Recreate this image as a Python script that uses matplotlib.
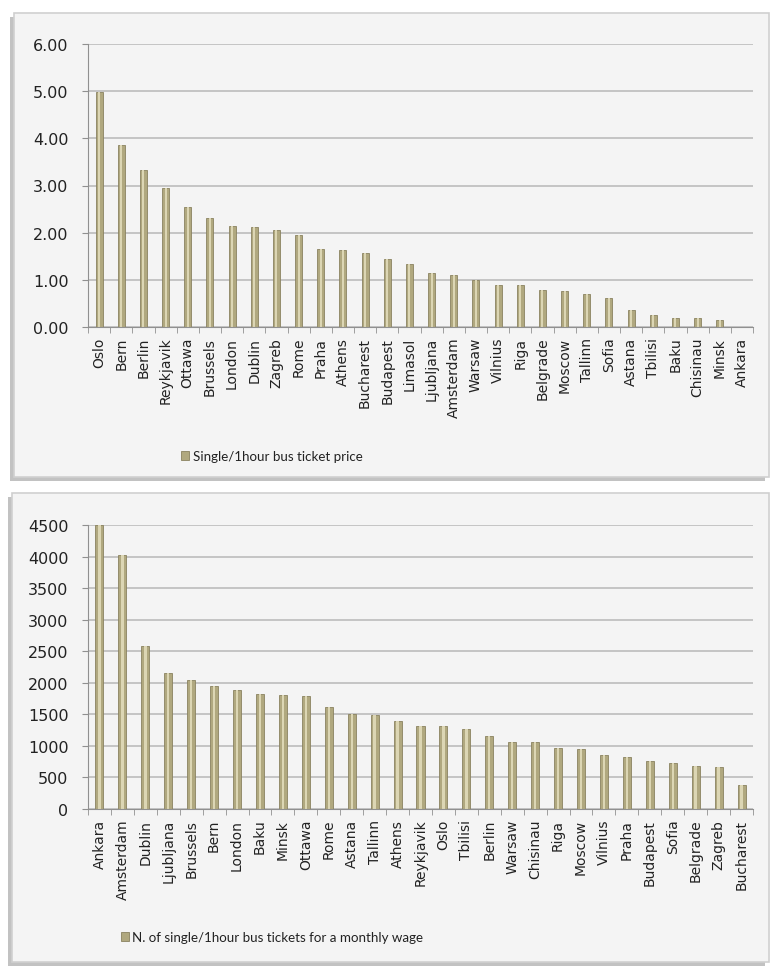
import matplotlib
matplotlib.use("Agg")
import matplotlib.pyplot as plt
from matplotlib.patches import Rectangle
import numpy as np

# top chart: price of a single / 1 hour bus ticket
price_cities = ["Oslo", "Bern", "Berlin", "Reykjavik", "Ottawa", "Brussels", "London",
                "Dublin", "Zagreb", "Rome", "Praha", "Athens", "Bucharest", "Budapest",
                "Limasol", "Ljubljana", "Amsterdam", "Warsaw", "Vilnius", "Riga",
                "Belgrade", "Moscow", "Tallinn", "Sofia", "Astana", "Tbilisi", "Baku",
                "Chisinau", "Minsk", "Ankara"]
price_values = [4.98, 3.86, 3.32, 2.95, 2.54, 2.31, 2.15, 2.11, 2.06, 1.96, 1.66, 1.63,
                1.57, 1.45, 1.34, 1.15, 1.11, 0.99, 0.88, 0.88, 0.79, 0.76, 0.71, 0.61,
                0.35, 0.26, 0.19, 0.19, 0.14, 0.0]
price_ticks = [0, 1, 2, 3, 4, 5, 6]

# bottom chart: tickets per monthly wage
wage_cities = ["Ankara", "Amsterdam", "Dublin", "Ljubljana", "Brussels", "Bern", "London",
               "Baku", "Minsk", "Ottawa", "Rome", "Astana", "Tallinn", "Athens",
               "Reykjavik", "Oslo", "Tbilisi", "Berlin", "Warsaw", "Chisinau", "Riga",
               "Moscow", "Vilnius", "Praha", "Budapest", "Sofia", "Belgrade", "Zagreb",
               "Bucharest"]
wage_values = [4500, 4020, 2585, 2160, 2040, 1950, 1880, 1830, 1810, 1795, 1610, 1505,
               1490, 1400, 1320, 1315, 1275, 1160, 1065, 1055, 960, 950, 855, 820, 765,
               728, 685, 660, 380]
wage_ticks = [0, 500, 1000, 1500, 2000, 2500, 3000, 3500, 4000, 4500]

W, H = 775, 970
BG = "#f4f4f4"
BAR = "#b0a87f"
BAR_HI = "#dcd6b4"
GRID = "#c4c4c4"
TXT = "#222222"

fig = plt.figure(figsize=(W / 100, H / 100), dpi=100)
fig.patch.set_facecolor("white")

# panel frames drawn in pixel coords
bg = fig.add_axes([0, 0, 1, 1], zorder=-5)
bg.set_xlim(0, W)
bg.set_ylim(H, 0)
bg.axis("off")
for (x0, y0, x1, y1) in [(14, 14, 769, 478), (12, 494, 769, 963)]:
    bg.add_patch(Rectangle((x0 - 4, y0 + 4), x1 - x0, y1 - y0, facecolor="#9a9a9a",
                           edgecolor="none", alpha=0.6))
    bg.add_patch(Rectangle((x0, y0), x1 - x0, y1 - y0, facecolor=BG,
                           edgecolor="#d0d0d0", linewidth=1.2))


def bar_panel(rect, cats, vals, ticks, fmt, legend_text, legend_y, width):
    ax = fig.add_axes(rect)
    ax.set_facecolor(BG)
    x = np.arange(len(cats))
    ax.bar(x, vals, width=width, color=BAR, edgecolor="#8a8260", linewidth=0.6, zorder=3,
           label=legend_text)
    ax.bar(x, vals, width=width * 0.3, color=BAR_HI, edgecolor="none", zorder=4)
    ax.set_xlim(-0.5, len(cats) - 0.5)
    ax.set_ylim(ticks[0], ticks[-1])
    ax.set_yticks(ticks)
    ax.set_yticklabels([fmt(t) for t in ticks], fontsize=11.5, color=TXT)
    ax.set_xticks(x)
    ax.set_xticklabels(cats, rotation=90, fontsize=10, color=TXT)
    ax.set_xticks(np.arange(len(cats) + 1) - 0.5, minor=True)
    ax.tick_params(axis="x", which="major", length=0, pad=7)
    ax.tick_params(axis="x", which="minor", length=4, color="#909090", direction="out")
    ax.tick_params(axis="y", length=4, color="#909090", direction="out", pad=10)
    ax.grid(axis="y", color=GRID, linewidth=1.4, zorder=0)
    for s in ["top", "right"]:
        ax.spines[s].set_visible(False)
    for s in ["left", "bottom"]:
        ax.spines[s].set_color("#909090")
        ax.spines[s].set_zorder(5)
    leg = ax.legend(loc="center", bbox_to_anchor=(272 / W, 1 - legend_y / H),
                    bbox_transform=fig.transFigure, frameon=False,
                    handlelength=0.6, handleheight=0.6, handletextpad=0.25,
                    prop={"family": "Lato", "size": 9.6})
    for t in leg.get_texts():
        t.set_color(TXT)
    return ax


bar_panel([88 / W, 1 - 328 / H, 665 / W, 283 / H], price_cities, price_values,
          price_ticks, lambda v: f"{v:.2f}", "Single/1hour bus ticket price", 457, 0.32)
bar_panel([88 / W, 1 - 810 / H, 665 / W, 284 / H], wage_cities, wage_values,
          wage_ticks, lambda v: f"{v}", "N. of single/1hour bus tickets for a monthly wage",
          938, 0.35)

fig.savefig("out.png", dpi=100, facecolor="white")
